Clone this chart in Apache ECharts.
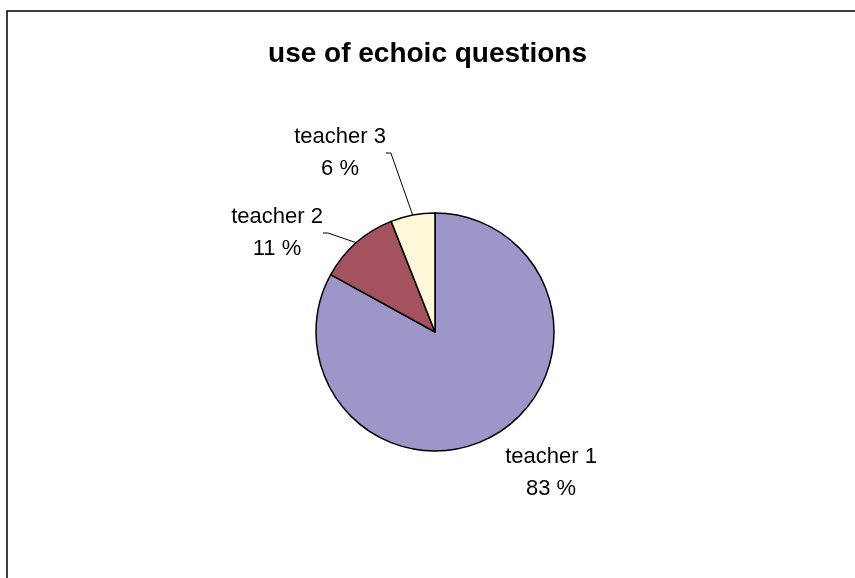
<!DOCTYPE html>
<html>
<head>
<meta charset="utf-8">
<script src="https://cdn.jsdelivr.net/npm/echarts@6/dist/echarts.min.js"></script>
<style>html,body{margin:0;padding:0;background:#fff;}#c{width:855px;height:578px;}</style>
</head>
<body>
<div id="c"></div>
<script>
var titleText = 'use of echoic questions';
var categories = ['teacher 1', 'teacher 2', 'teacher 3'];
var values = [83, 11, 6];
var colors = ['#9D97C9', '#A5525F', '#FFF9D9'];
// label anchor offsets (text block centres)
var labelPos = [[551, 473], [277, 233], [340, 153]];

var chart = echarts.init(document.getElementById('c'), null, {renderer: 'canvas'});
chart.setOption({
  backgroundColor: '#fff',
  animation: false,
  title: {
    text: titleText,
    left: 'center',
    top: 35,
    textStyle: {fontFamily: 'Liberation Sans, Arial, sans-serif', fontSize: 28, fontWeight: 'bold', color: '#000'}
  },
  graphic: [{
    type: 'rect',
    shape: {x: 7, y: 11, width: 1000, height: 800},
    style: {fill: 'none', stroke: '#000', lineWidth: 1.5},
    silent: true
  }],
  series: [{
    type: 'pie',
    center: [435, 332],
    radius: [0, 119],
    startAngle: 90,
    clockwise: true,
    data: categories.map(function (n, i) {
      return {name: n, value: values[i], itemStyle: {color: colors[i]},
        labelLine: {show: i !== 0}};
    }),
    itemStyle: {borderColor: '#000', borderWidth: 1.5},
    label: {
      show: true,
      position: 'outside',
      formatter: '{b}\n{c} %',
      fontFamily: 'Liberation Sans, Arial, sans-serif',
      fontSize: 22,
      lineHeight: 32,
      color: '#000',
      align: 'center'
    },
    labelLine: {show: true, lineStyle: {color: '#000', width: 1}, length: 20, length2: 5},
    labelLayout: function (p) {
      var pos = labelPos[p.dataIndex];
      return {x: pos[0], y: pos[1], align: 'center', verticalAlign: 'middle'};
    },
    emphasis: {disabled: true}
  }]
});
</script>
</body>
</html>
